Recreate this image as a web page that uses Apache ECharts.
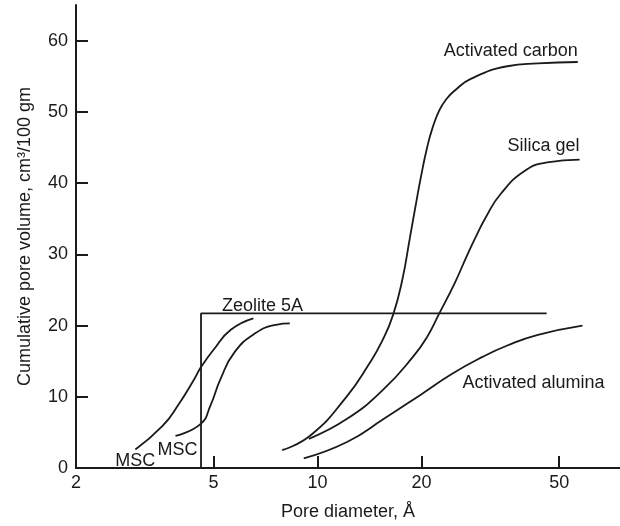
<!DOCTYPE html>
<html>
<head>
<meta charset="utf-8">
<script src="https://cdn.jsdelivr.net/npm/echarts@6/dist/echarts.min.js"></script>
<style>
  html, body { margin: 0; padding: 0; background: #fff; }
  #chart { width: 620px; height: 526px; }
</style>
</head>
<body>
<div id="chart"></div>
<script>
// Axis ticks and labels
const xTickValues = [5, 10, 20, 50];
const xLabelValues = [2, 5, 10, 20, 50];
const yTickValues = [0, 10, 20, 30, 40, 50, 60];

// Cumulative pore volume (cm3/100 gm) vs pore diameter (Å)
const mscFine = [[2.97, 2.6], [3.56, 5.9], [3.96, 8.9], [4.40, 12.5], [4.59, 14.1], [5.0, 16.6], [5.61, 19.4], [6.52, 21.0]];
const mscCoarse = [[3.88, 4.5], [4.59, 6.2], [4.90, 8.8], [5.24, 12.5], [5.74, 16.2], [6.60, 18.9], [7.58, 20.1], [8.31, 20.3]];
const zeolite5A = [[4.6, 0], [4.6, 21.7], [46, 21.7]];
const activatedCarbon = [[7.90, 2.5], [9.55, 4.6], [12.17, 10.1], [14.09, 14.6], [15.37, 17.8], [16.54, 21.5], [17.60, 26.5], [18.48, 32.2], [19.41, 38.0], [20.12, 42.0], [20.75, 45.0], [21.4, 47.4], [22.5, 50.2], [23.7, 51.9], [24.96, 53.0], [27.66, 54.6], [35.4, 56.4], [43.4, 56.8], [56.6, 57.0]];
const silicaGel = [[9.44, 4.1], [12.17, 6.9], [15.56, 11.1], [18.95, 15.7], [20.75, 18.4], [22.5, 21.7], [24.96, 26.0], [27.1, 29.9], [28.8, 32.6], [30.6, 35.1], [33.9, 38.5], [40.0, 41.8], [46.2, 42.9], [57.3, 43.3]];
const activatedAlumina = [[9.12, 1.35], [12.17, 3.65], [15.56, 6.9], [19.89, 10.3], [24.45, 13.2], [30.0, 15.6], [35.4, 17.2], [43.4, 18.7], [58.4, 20.0]];

const FONT = 'Liberation Sans, Arial, Helvetica, sans-serif';
const INK = '#1a1a1a';
const textStyle = { color: INK, fontFamily: FONT, fontSize: 18 };

// A curve through the points; its name is written next to one of them
function curve(name, points, smooth, anchorIndex, label) {
  return {
    name: name,
    type: 'line',
    data: points,
    smooth: smooth,
    showSymbol: false,
    symbol: 'none',
    silent: true,
    lineStyle: { color: INK, width: 1.8 },
    markPoint: {
      silent: true,
      symbol: 'circle',
      symbolSize: 1,
      itemStyle: { color: 'rgba(0,0,0,0)' },
      label: Object.assign({ show: true, formatter: name }, textStyle, label),
      data: [{ coord: points[anchorIndex] }]
    }
  };
}

const chart = echarts.init(document.getElementById('chart'), null, { renderer: 'canvas' });

chart.setOption({
  backgroundColor: '#fff',
  animation: false,
  grid: { left: 76, right: 0, top: 5, bottom: 53, containLabel: false },
  xAxis: {
    type: 'log',
    logBase: 10,
    min: 2,
    max: 75,
    name: 'Pore diameter, Å',
    nameLocation: 'middle',
    nameGap: 35,
    nameTextStyle: textStyle,
    axisLine: { show: true, onZero: false, lineStyle: { color: INK, width: 2 } },
    axisTick: { show: true, inside: true, length: 12, customValues: xTickValues, lineStyle: { color: INK, width: 2 } },
    axisLabel: Object.assign({ margin: 6, customValues: xLabelValues, formatter: v => String(Math.round(v)) }, textStyle),
    splitLine: { show: false },
    minorTick: { show: false }
  },
  yAxis: {
    type: 'value',
    min: 0,
    max: 65,
    interval: 10,
    name: 'Cumulative pore volume, cm³/100 gm',
    nameLocation: 'middle',
    nameGap: 42,
    nameTextStyle: textStyle,
    axisLine: { show: true, lineStyle: { color: INK, width: 2 } },
    axisTick: { show: true, inside: true, length: 12, customValues: yTickValues, lineStyle: { color: INK, width: 2 } },
    axisLabel: Object.assign({ margin: 8, customValues: yTickValues }, textStyle),
    splitLine: { show: false }
  },
  series: [
    curve('MSC', mscFine, 0.5, 0, { position: 'bottom', align: 'right', offset: [20, -3] }),
    curve('MSC', mscCoarse, 0.5, 0, { position: 'bottom', align: 'right', offset: [22, 0] }),
    curve('Zeolite 5A', zeolite5A, false, 1, { position: 'top', align: 'left', offset: [21, 7] }),
    curve('Activated carbon', activatedCarbon, 0.5, activatedCarbon.length - 1, { position: 'top', align: 'right', distance: 1 }),
    curve('Silica gel', silicaGel, 0.5, silicaGel.length - 1, { position: 'top', align: 'right', distance: 4 }),
    curve('Activated alumina', activatedAlumina, 0.5, 5, { position: 'bottom', align: 'left', offset: [-20, 12] })
  ]
});
</script>
</body>
</html>
